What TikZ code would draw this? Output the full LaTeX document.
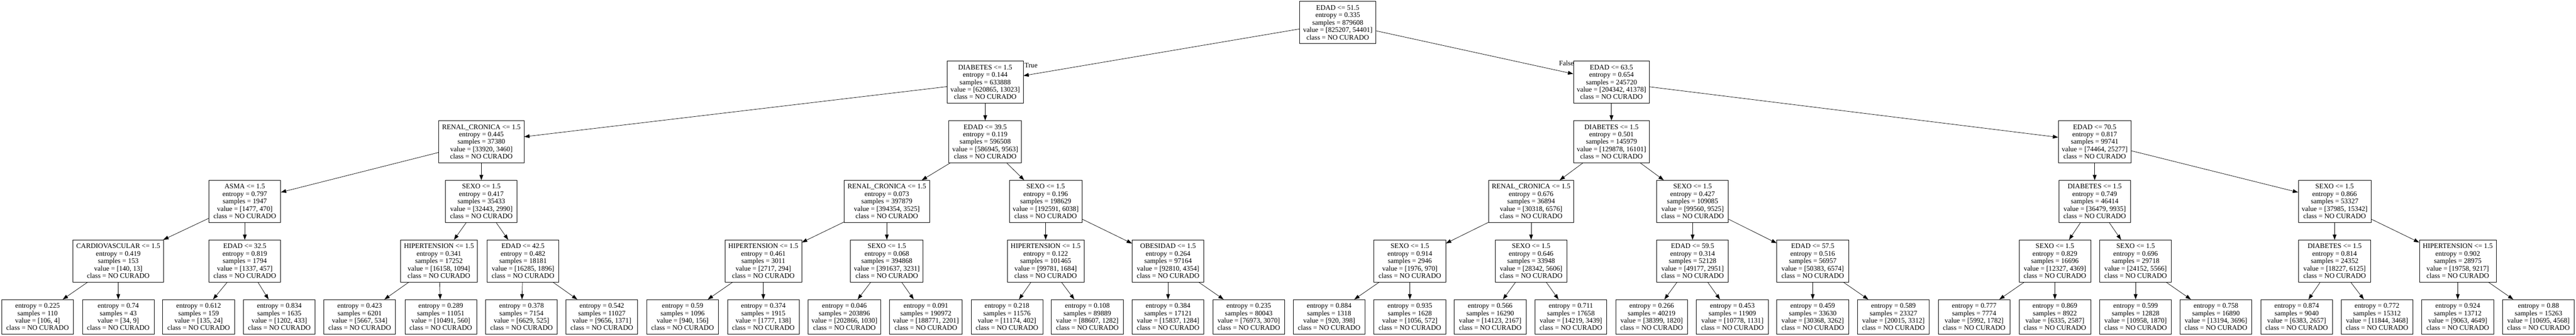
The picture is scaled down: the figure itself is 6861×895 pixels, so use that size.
\documentclass[tikz,border=0pt]{standalone}
\usepackage{fontspec}
\setmainfont{Liberation Serif}
\usetikzlibrary{arrows.meta}
\tikzset{
  box/.style={draw=black, rectangle, align=center, font=\fontsize{18.67pt}{19.8pt}\selectfont,
    inner xsep=9pt, inner ysep=2pt, minimum width=191pt, line width=1.2pt},
  ibox/.style={box, minimum height=112pt},
  lbox/.style={box, minimum height=92pt},
  edge/.style={-{Triangle[length=14pt,width=10pt]}, line width=1pt, draw=black},
  lbl/.style={inner sep=0pt, font=\fontsize{18.67pt}{19.8pt}\selectfont}
}
\newcommand{\mkin}[7]{\node[ibox] (#1) at (#2,#3) {#4\\entropy = #5\\samples = #6\\value = [#7]\\class = NO CURADO};}
\newcommand{\mklf}[5]{\node[lbox] (#1) at (#2,845) {entropy = #3\\samples = #4\\value = [#5]\\class = NO CURADO};}
\begin{document}
\begin{tikzpicture}[x=1pt,y=-1pt]
\useasboundingbox[fill=white] (0,0) rectangle (6861,895);
% level 0
\mkin{r}{3563}{60}{EDAD <= 51.5}{0.335}{879608}{825207, 54401}
% level 1
\mkin{n1}{2624}{219}{DIABETES <= 1.5}{0.144}{633888}{620865, 13023}
\mkin{n2}{4292}{219}{EDAD <= 63.5}{0.654}{245720}{204342, 41378}
% level 2
\mkin{n11}{1282}{378}{RENAL\_CRONICA <= 1.5}{0.445}{37380}{33920, 3460}
\mkin{n12}{2624}{378}{EDAD <= 39.5}{0.119}{596508}{586945, 9563}
\mkin{n21}{4292}{378}{DIABETES <= 1.5}{0.501}{145979}{129878, 16101}
\mkin{n22}{5579}{378}{EDAD <= 70.5}{0.817}{99741}{74464, 25277}
% level 3
\mkin{n111}{652}{537}{ASMA <= 1.5}{0.797}{1947}{1477, 470}
\mkin{n112}{1282}{537}{SEXO <= 1.5}{0.417}{35433}{32443, 2990}
\mkin{n121}{2362}{537}{RENAL\_CRONICA <= 1.5}{0.073}{397879}{394354, 3525}
\mkin{n122}{2785}{537}{SEXO <= 1.5}{0.196}{198629}{192591, 6038}
\mkin{n211}{4078}{537}{RENAL\_CRONICA <= 1.5}{0.676}{36894}{30318, 6576}
\mkin{n212}{4508}{537}{SEXO <= 1.5}{0.427}{109085}{99560, 9525}
\mkin{n221}{5579}{537}{DIABETES <= 1.5}{0.749}{46414}{36479, 9935}
\mkin{n222}{6218}{537}{SEXO <= 1.5}{0.866}{53327}{37985, 15342}
% level 4
\mkin{a1}{315}{696}{CARDIOVASCULAR <= 1.5}{0.419}{153}{140, 13}
\mkin{a2}{652}{696}{EDAD <= 32.5}{0.819}{1794}{1337, 457}
\mkin{a3}{1169}{696}{HIPERTENSION <= 1.5}{0.341}{17252}{16158, 1094}
\mkin{a4}{1393}{696}{EDAD <= 42.5}{0.482}{18181}{16285, 1896}
\mkin{a5}{2033}{696}{HIPERTENSION <= 1.5}{0.461}{3011}{2717, 294}
\mkin{a6}{2362}{696}{SEXO <= 1.5}{0.068}{394868}{391637, 3231}
\mkin{a7}{2785}{696}{HIPERTENSION <= 1.5}{0.122}{101465}{99781, 1684}
\mkin{a8}{3111}{696}{OBESIDAD <= 1.5}{0.264}{97164}{92810, 4354}
\mkin{a9}{3755}{696}{SEXO <= 1.5}{0.914}{2946}{1976, 970}
\mkin{a10}{4078}{696}{SEXO <= 1.5}{0.646}{33948}{28342, 5606}
\mkin{a11}{4508}{696}{EDAD <= 59.5}{0.314}{52128}{49177, 2951}
\mkin{a12}{4828}{696}{EDAD <= 57.5}{0.516}{56957}{50383, 6574}
\mkin{a13}{5473}{696}{SEXO <= 1.5}{0.829}{16696}{12327, 4369}
\mkin{a14}{5688}{696}{SEXO <= 1.5}{0.696}{29718}{24152, 5566}
\mkin{a15}{6218}{696}{DIABETES <= 1.5}{0.814}{24352}{18227, 6125}
\mkin{a16}{6546}{696}{HIPERTENSION <= 1.5}{0.902}{28975}{19758, 9217}
% leaves
\mklf{l1}{100}{0.225}{110}{106, 4}
\mklf{l2}{315}{0.74}{43}{34, 9}
\mklf{l3}{529}{0.612}{159}{135, 24}
\mklf{l4}{744}{0.834}{1635}{1202, 433}
\mklf{l5}{958}{0.423}{6201}{5667, 534}
\mklf{l6}{1174}{0.289}{11051}{10491, 560}
\mklf{l7}{1389}{0.378}{7154}{6629, 525}
\mklf{l8}{1603}{0.542}{11027}{9656, 1371}
\mklf{l9}{1818}{0.59}{1096}{940, 156}
\mklf{l10}{2033}{0.374}{1915}{1777, 138}
\mklf{l11}{2249}{0.046}{203896}{202866, 1030}
\mklf{l12}{2466}{0.091}{190972}{188771, 2201}
\mklf{l13}{2682}{0.218}{11576}{11174, 402}
\mklf{l14}{2896}{0.108}{89889}{88607, 1282}
\mklf{l15}{3111}{0.384}{17121}{15837, 1284}
\mklf{l16}{3326}{0.235}{80043}{76973, 3070}
\mklf{l17}{3540}{0.884}{1318}{920, 398}
\mklf{l18}{3755}{0.935}{1628}{1056, 572}
\mklf{l19}{3969}{0.566}{16290}{14123, 2167}
\mklf{l20}{4184}{0.711}{17658}{14219, 3439}
\mklf{l21}{4399}{0.266}{40219}{38399, 1820}
\mklf{l22}{4614}{0.453}{11909}{10778, 1131}
\mklf{l23}{4828}{0.459}{33630}{30368, 3262}
\mklf{l24}{5043}{0.589}{23327}{20015, 3312}
\mklf{l25}{5258}{0.777}{7774}{5992, 1782}
\mklf{l26}{5473}{0.869}{8922}{6335, 2587}
\mklf{l27}{5688}{0.599}{12828}{10958, 1870}
\mklf{l28}{5902}{0.758}{16890}{13194, 3696}
\mklf{l29}{6117}{0.874}{9040}{6383, 2657}
\mklf{l30}{6331}{0.772}{15312}{11844, 3468}
\mklf{l31}{6546}{0.924}{13712}{9063, 4649}
\mklf{l32}{6761}{0.88}{15263}{10695, 4568}
% edges
\draw[edge] (r) -- (n1);
\draw[edge] (r) -- (n2);
\draw[edge] (n1) -- (n11);
\draw[edge] (n1) -- (n12);
\draw[edge] (n2) -- (n21);
\draw[edge] (n2) -- (n22);
\draw[edge] (n11) -- (n111);
\draw[edge] (n11) -- (n112);
\draw[edge] (n12) -- (n121);
\draw[edge] (n12) -- (n122);
\draw[edge] (n21) -- (n211);
\draw[edge] (n21) -- (n212);
\draw[edge] (n22) -- (n221);
\draw[edge] (n22) -- (n222);
\draw[edge] (n111) -- (a1);
\draw[edge] (n111) -- (a2);
\draw[edge] (n112) -- (a3);
\draw[edge] (n112) -- (a4);
\draw[edge] (n121) -- (a5);
\draw[edge] (n121) -- (a6);
\draw[edge] (n122) -- (a7);
\draw[edge] (n122) -- (a8);
\draw[edge] (n211) -- (a9);
\draw[edge] (n211) -- (a10);
\draw[edge] (n212) -- (a11);
\draw[edge] (n212) -- (a12);
\draw[edge] (n221) -- (a13);
\draw[edge] (n221) -- (a14);
\draw[edge] (n222) -- (a15);
\draw[edge] (n222) -- (a16);
\draw[edge] (a1) -- (l1);
\draw[edge] (a1) -- (l2);
\draw[edge] (a2) -- (l3);
\draw[edge] (a2) -- (l4);
\draw[edge] (a3) -- (l5);
\draw[edge] (a3) -- (l6);
\draw[edge] (a4) -- (l7);
\draw[edge] (a4) -- (l8);
\draw[edge] (a5) -- (l9);
\draw[edge] (a5) -- (l10);
\draw[edge] (a6) -- (l11);
\draw[edge] (a6) -- (l12);
\draw[edge] (a7) -- (l13);
\draw[edge] (a7) -- (l14);
\draw[edge] (a8) -- (l15);
\draw[edge] (a8) -- (l16);
\draw[edge] (a9) -- (l17);
\draw[edge] (a9) -- (l18);
\draw[edge] (a10) -- (l19);
\draw[edge] (a10) -- (l20);
\draw[edge] (a11) -- (l21);
\draw[edge] (a11) -- (l22);
\draw[edge] (a12) -- (l23);
\draw[edge] (a12) -- (l24);
\draw[edge] (a13) -- (l25);
\draw[edge] (a13) -- (l26);
\draw[edge] (a14) -- (l27);
\draw[edge] (a14) -- (l28);
\draw[edge] (a15) -- (l29);
\draw[edge] (a15) -- (l30);
\draw[edge] (a16) -- (l31);
\draw[edge] (a16) -- (l32);
% edge labels
\node[lbl] (tlab) at (2746,174) {True};
\node[lbl] (flab) at (4172,168) {False};
\end{tikzpicture}
\end{document}
